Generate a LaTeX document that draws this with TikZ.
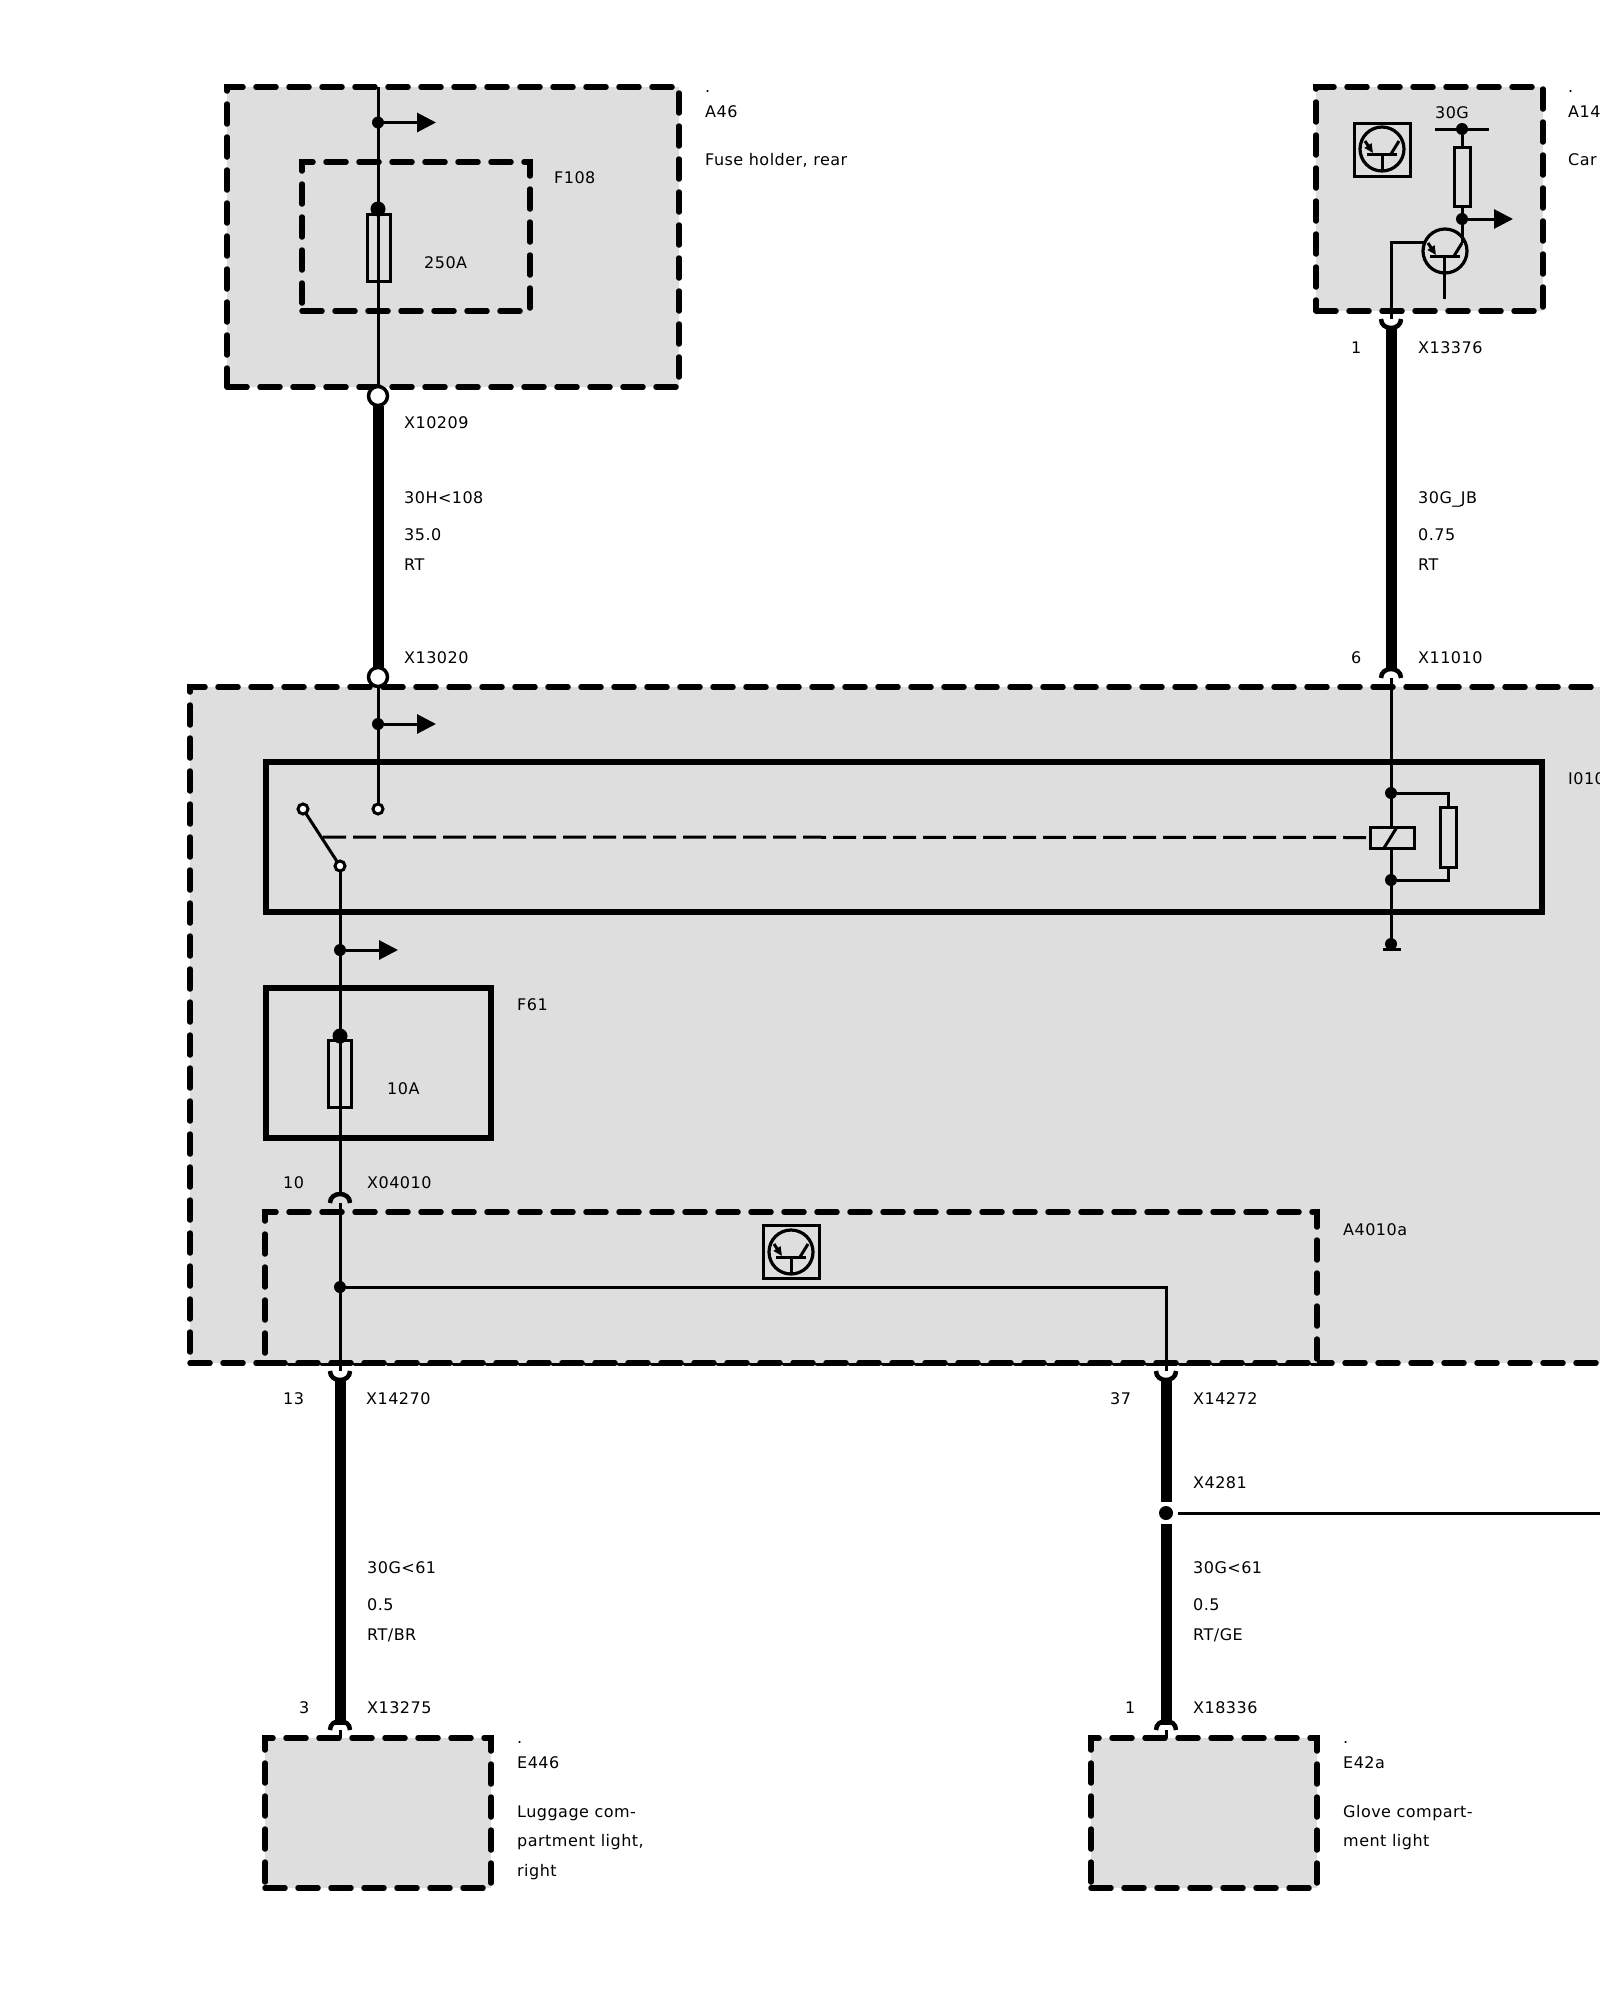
\documentclass[tikz,border=0pt]{standalone}
\usepackage{fontspec}
\setmainfont[LetterSpace=3]{DejaVu Sans}
\usepackage{tikz}
\usetikzlibrary{arrows.meta}
\definecolor{boxgray}{HTML}{DEDEDE}

\tikzstyle{dashbox} = [rectangle, draw, fill=boxgray, inner sep=0, outer sep=0, line width=5.5pt, line cap=round, dash pattern=on 20pt off 13pt]
\tikzstyle{solidbox} = [rectangle, draw, inner sep=0, outer sep=0, line width=5.5pt, line join=miter]
\tikzstyle{wire} = [line width=3pt]
\tikzstyle{thickwire} = [line width=11pt]
\tikzstyle{dot} = [circle, fill=black, inner sep=0, outer sep=0, minimum size=12pt]
\tikzstyle{ring} = [circle, draw, fill=white, inner sep=0, outer sep=0, line width=3pt, minimum size=10pt]
\tikzstyle{bigring} = [circle, draw, fill=white, inner sep=0, outer sep=0, line width=3.5pt, minimum size=19pt]
\tikzstyle{part} = [rectangle, draw, inner sep=0, outer sep=0, line width=3pt]
\tikzstyle{tap} = [wire, -{Triangle[length=19pt,width=19pt]}]
\tikzstyle{lbl} = [inner sep=0, anchor=base west, font=\fontsize{16}{16}\selectfont]

\tikzset{
  cup/.pic={\draw[line width=4.5pt] (-10,0) .. controls (-10,12) and (10,12) .. (10,0);},
  cap/.pic={\draw[line width=4.5pt] (-10,0) .. controls (-10,-12) and (10,-12) .. (10,0);},
  tranz/.pic={
    \draw[line width=3.2pt] (0,0) circle (22pt);
    \draw[line width=3pt] (-15,5) -- (15,5);
    \draw[line width=3pt, -{Triangle[length=9pt,width=8pt]}] (-17,-8) -- (-9,4);
    \draw[line width=3pt] (9,5) -- (17,-8);
  }
}

\begin{document}
\begin{tikzpicture}[x=1pt, y=-1pt]
\path[use as bounding box, fill=white] (0,0) rectangle (1600,2000);

% boxes
\node[dashbox, minimum width=452pt, minimum height=300pt] (a46) at (453,237) {};
\node[dashbox, minimum width=228pt, minimum height=149pt] (f108) at (416,236.5) {};
\node[dashbox, minimum width=227pt, minimum height=224pt] (a14) at (1429.5,199) {};
\node[dashbox, minimum width=1600pt, minimum height=676pt] (i010) at (990,1025) {};
\node[solidbox, minimum width=1276pt, minimum height=150pt] (relay) at (904,837) {};
\node[solidbox, minimum width=225pt, minimum height=150pt] (f61) at (378.5,1063) {};
\node[dashbox, minimum width=1052pt, minimum height=151pt] (a4010a) at (791,1287.5) {};
\node[dashbox, minimum width=226pt, minimum height=150pt] (e446) at (378,1813) {};
\node[dashbox, minimum width=226pt, minimum height=150pt] (e42a) at (1204,1813) {};

% wire ends
\coordinate (top1) at (378,87);
\coordinate (barL) at (1435,129);
\coordinate (barR) at (1489,129);
\coordinate (c1) at (1391,319);
\coordinate (c1b) at (1391,242);
\coordinate (c1c) at (1426,242);
\coordinate (c1s) at (1391,327);
\coordinate (c6s) at (1391,671);
\coordinate (c6) at (1391,678);
\coordinate (gnd) at (1391,944);
\coordinate (c10) at (340,1193);
\coordinate (c10b) at (340,1203);
\coordinate (c13) at (340,1371);
\coordinate (c13s) at (340,1379);
\coordinate (c3s) at (340,1725);
\coordinate (c3) at (340,1730);
\coordinate (c3b) at (340,1738);
\coordinate (c37) at (1166,1371);
\coordinate (c37s) at (1166,1379);
\coordinate (c1a) at (1166,1725);
\coordinate (c1x) at (1166,1730);
\coordinate (c1y) at (1166,1738);
\coordinate (xoff) at (1178,1513);
\coordinate (xout) at (1600,1513);
\coordinate (rtop) at (1448,793);
\coordinate (rbot) at (1448,880);
\coordinate (trb) at (1462,243);
\coordinate (dashL) at (323,837);
\coordinate (t1) at (436,122.5);
\coordinate (t2) at (436,724);
\coordinate (t3) at (398,950);
\coordinate (t4) at (1513,219);

% dots and rings
\node[bigring] (x10209) at (378,396) {};
\node[bigring] (x13020) at (378,677) {};
\node[dot] (j1) at (378,122.5) {};
\node[dot] (j2) at (378,724) {};
\node[dot] (j3) at (340,950) {};
\node[dot] (j4) at (340,1287) {};
\node[dot] (j5) at (1462,129) {};
\node[dot] (j6) at (1462,219) {};
\node[dot] (j7) at (1391,793) {};
\node[dot] (j8) at (1391,880) {};
\node[dot, minimum size=14pt] (x4281) at (1166,1513) {};
\node[dot, minimum size=15pt] (fb1) at (378,209) {};
\node[dot, minimum size=15pt] (fb2) at (340,1036) {};
\node[ring] (s1) at (303,809) {};
\node[ring] (s2) at (378,809) {};
\node[ring] (s3) at (340,866) {};

% thin wires
\draw[wire] (top1) -- (x10209);
\draw[wire] (x13020) -- (s2);
\draw[wire] (s1) -- (s3);
\draw[wire] (s3) -- (c10);
\draw[wire] (c10b) -- (c13);
\draw[wire] (c6) -- (gnd);
\draw[wire] (c1) -- (c1b) -- (c1c);
\draw[wire] (j5) -- (trb);
\draw[wire] (barL) -- (barR);
\draw[wire] (j4) -| (c37);
\draw[wire] (xoff) -- (xout);
\draw[wire] (c3) -- (c3b);
\draw[wire] (c1x) -- (c1y);

% tap arrows
\draw[tap] (j1) -- (t1);
\draw[tap] (j2) -- (t2);
\draw[tap] (j3) -- (t3);
\draw[tap] (j6) -- (t4);

% thick wires
\draw[thickwire] (x10209) -- (x13020);
\draw[thickwire] (c1s) -- (c6s);
\draw[thickwire] (c13s) -- (c3s);
\draw[thickwire, shorten >=4pt] (c37s) -- (x4281);
\draw[thickwire, shorten <=4pt] (x4281) -- (c1a);

% connector forks
\pic at (c1) {cup};
\pic at (c6) {cap};
\pic at (c10b) {cap};
\pic at (c13) {cup};
\pic at (c37) {cup};
\pic at (c3) {cap};
\pic at (c1x) {cap};

% fuses, resistors, coil
\node[part, minimum width=23pt, minimum height=67pt] (fuse1) at (378.5,247.5) {};
\node[part, minimum width=23pt, minimum height=67pt] (fuse2) at (340,1074) {};
\node[part, fill=boxgray, minimum width=16pt, minimum height=59pt] (r1) at (1462,177) {};
\node[part, fill=boxgray, minimum width=16pt, minimum height=60pt] (r2) at (1448,837) {};
\node[part, fill=boxgray, minimum width=44pt, minimum height=21pt] (coil) at (1392,837.5) {};
\draw[wire, dash pattern=on 23pt off 7pt] (dashL) -- (coil.west);
\draw[wire] (coil.south west) ++(14,0) -- ++(13,-21);
\draw[wire] (j7) -- (rtop) -- (r2.north);
\draw[wire] (j8) -- (rbot) -- (r2.south);
\node[dot] (gb) at (gnd) {};
\draw[line width=3pt] (1383,949) -- (1401,949);

% transistors
\pic at (1445,251) {tranz};
\draw[wire] (1444,257) -- (1444,299);
\node[part, minimum width=56pt, minimum height=53pt] (icon1) at (1382,149.5) {};
\pic at (1382,149) {tranz};
\draw[wire] (1382,154) -- (1382,170);
\node[part, minimum width=56pt, minimum height=53pt] (icon2) at (791,1252) {};
\pic at (791,1252) {tranz};
\draw[wire] (791,1257) -- (791,1273);

% labels
\foreach \nm/\x/\y/\txt in {
  la/705/92/., lb/705/117/A46, lc/705/165/{Fuse holder, rear},
  ld/554/183/F108, le/424/268/250A, lf/404/428/X10209,
  lg/404/503/{30H<108}, lh/404/540/35.0, li/404/570/RT, lj/404/663/X13020,
  lk/1568/92/., ll/1568/117/A14, lm/1568/165/Car,
  ln/1351/353/1, lo/1418/353/X13376, lp/1418/503/30G\_JB,
  lq/1418/540/0.75, lr/1418/570/RT, ls/1351/663/6, lt/1418/663/X11010,
  lu/1568/784/I010, lv/517/1010/F61, lw/387/1094/10A,
  lx/283/1188/10, ly/367/1188/X04010, lz/1343/1235/A4010a,
  ma/283/1404/13, mb/366/1404/X14270, mc/1110/1404/37, md/1193/1404/X14272,
  me/1193/1488/X4281,
  mf/367/1573/{30G<61}, mg/367/1610/0.5, mh/367/1640/{RT/BR},
  mi/1193/1573/{30G<61}, mj/1193/1610/0.5, mk/1193/1640/{RT/GE},
  ml/299/1713/3, mm/367/1713/X13275, mn/1125/1713/1, mo/1193/1713/X18336,
  mp/517/1743/., mq/517/1768/E446, mr/517/1817/Luggage com-,
  ms/517/1846/{partment light,}, mt/517/1876/right,
  mu/1343/1743/., mv/1343/1768/E42a, mw/1343/1817/Glove compart-,
  mx/1343/1846/ment light}
  \node[lbl] (\nm) at (\x,\y) {\txt};
\node[lbl, anchor=base] (vg) at (1452,118) {30G};
\end{tikzpicture}
\end{document}
